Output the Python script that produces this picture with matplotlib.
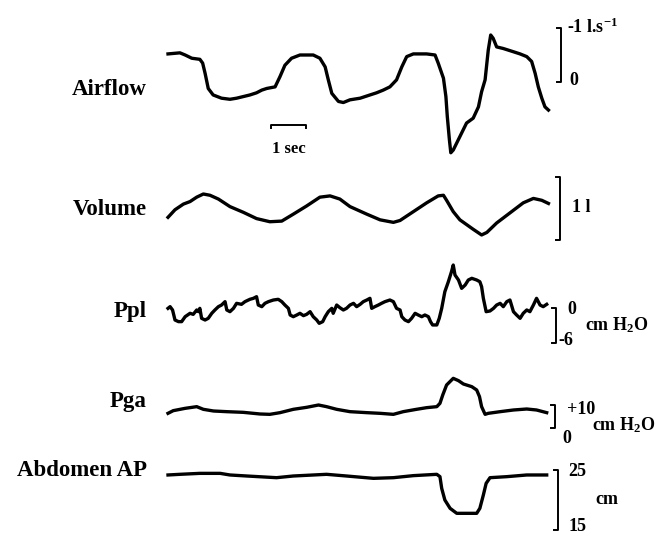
"""
Respiratory traces: airflow, volume, pleural / gastric pressure, abdomen AP
"""
import numpy as np
import matplotlib.pyplot as plt

plt.rcParams['font.family'] = ['Liberation Serif', 'DejaVu Serif']
plt.rcParams['font.weight'] = 'bold'

# time in seconds, values in the units of each scale bar
airflow_t = [0.0, 0.34, 0.49, 0.68, 0.91, 0.99, 1.06, 1.15, 1.29, 1.53, 1.77, 1.96, 2.15, 2.34,
             2.53, 2.68, 2.82, 3.06, 3.20, 3.34, 3.53, 3.77, 4.15, 4.34, 4.49, 4.58, 4.68, 4.87,
             5.01, 5.20, 5.49, 5.77, 5.96, 6.15, 6.34, 6.53, 6.68, 6.82, 7.01, 7.39, 7.63, 7.72,
             7.87, 7.94, 7.98, 8.04, 8.08, 8.15, 8.34, 8.53, 8.72, 8.87, 8.96, 9.06, 9.15, 9.22,
             9.29, 9.39, 9.58, 9.87, 10.06, 10.25, 10.39, 10.49, 10.58, 10.68, 10.77, 10.87]
airflow = [-0.52, -0.54, -0.50, -0.44, -0.42, -0.35, -0.16, 0.12, 0.24, 0.30, 0.32, 0.30, 0.27, 0.24,
           0.20, 0.15, 0.12, 0.09, -0.10, -0.31, -0.44, -0.50, -0.50, -0.44, -0.28, -0.04, 0.21, 0.36,
           0.38, 0.33, 0.30, 0.24, 0.20, 0.15, 0.09, -0.04, -0.28, -0.47, -0.52, -0.52, -0.50, -0.35,
           -0.07, 0.27, 0.64, 1.07, 1.31, 1.26, 1.01, 0.76, 0.67, 0.46, 0.18, -0.04, -0.59, -0.87,
           -0.81, -0.65, -0.62, -0.56, -0.52, -0.47, -0.38, -0.16, 0.09, 0.30, 0.46, 0.52]

volume_t = [0.0, 0.20, 0.44, 0.63, 0.82, 1.01, 1.20, 1.44, 1.77, 2.15, 2.53, 2.91, 3.25, 3.58,
            3.96, 4.34, 4.63, 4.91, 5.20, 5.68, 6.06, 6.44, 6.63, 7.01, 7.39, 7.72, 7.87, 7.96,
            8.15, 8.34, 8.72, 8.96, 9.11, 9.39, 9.77, 10.15, 10.44, 10.68, 10.87]
volume = [0.36, 0.48, 0.57, 0.61, 0.68, 0.73, 0.71, 0.65, 0.53, 0.44, 0.34, 0.29, 0.30, 0.41,
          0.54, 0.68, 0.70, 0.65, 0.53, 0.41, 0.32, 0.28, 0.31, 0.45, 0.59, 0.70, 0.71, 0.63,
          0.45, 0.32, 0.17, 0.08, 0.12, 0.27, 0.43, 0.59, 0.66, 0.63, 0.58]

ppl_t = [0.0, 0.06, 0.13, 0.20, 0.30, 0.39, 0.49, 0.63, 0.72, 0.82, 0.87, 0.91, 0.96, 1.06, 1.15,
         1.25, 1.34, 1.44, 1.53, 1.63, 1.68, 1.77, 1.87, 1.96, 2.10, 2.20, 2.34, 2.44, 2.53, 2.58,
         2.68, 2.77, 2.87, 3.01, 3.15, 3.25, 3.34, 3.44, 3.49, 3.58, 3.68, 3.77, 3.87, 3.96, 4.06,
         4.15, 4.25, 4.32, 4.42, 4.49, 4.58, 4.68, 4.72, 4.82, 4.91, 5.01, 5.10, 5.20, 5.30, 5.39,
         5.49, 5.58, 5.68, 5.77, 5.82, 5.91, 6.01, 6.10, 6.20, 6.34, 6.44, 6.53, 6.63, 6.68, 6.77,
         6.87, 6.96, 7.06, 7.15, 7.25, 7.34, 7.44, 7.50, 7.56, 7.68, 7.75, 7.82, 7.91, 8.01, 8.10,
         8.15, 8.20, 8.30, 8.39, 8.49, 8.58, 8.68, 8.82, 8.91, 8.96, 9.01, 9.09, 9.20, 9.30, 9.39,
         9.49, 9.58, 9.68, 9.77, 9.87, 9.96, 10.06, 10.15, 10.25, 10.34, 10.44, 10.53, 10.63,
         10.72, 10.82]
ppl = [-0.06, 0.23, -0.34, -2.06, -2.34, -2.34, -1.49, -0.91, -1.09, -0.34, -0.63, -0.06, -1.77,
       -2.06, -1.77, -0.91, -0.34, 0.23, 0.51, 1.09, -0.34, -0.63, -0.06, 0.80, 0.63, 1.09, 1.49,
       1.66, 1.94, 0.51, 0.23, 0.80, 1.09, 1.37, 1.49, 1.09, 0.51, -0.06, -1.20, -1.49, -1.20,
       -0.91, -1.31, -1.09, -0.63, -1.49, -2.06, -2.63, -2.34, -1.49, -0.63, -0.06, -0.91, 0.51,
       0.06, -0.34, -0.06, 0.51, 0.80, 0.23, 0.63, 1.09, 1.37, 1.66, -0.06, 0.23, 0.51, 0.80,
       1.09, 1.37, 1.09, -0.06, -0.34, -1.49, -2.06, -2.34, -1.77, -0.91, -1.20, -1.49, -1.20,
       -1.49, -2.34, -2.91, -2.91, -1.77, -0.06, 2.80, 4.51, 6.23, 7.37, 5.66, 4.80, 3.37, 3.94,
       4.80, 5.09, 4.80, 4.51, 3.66, 1.66, -0.63, -0.51, -0.06, 0.51, 0.80, 0.23, 1.09, 1.37,
       -0.63, -1.20, -1.77, -0.91, -0.34, -0.63, 0.51, 1.66, 0.51, 0.23, 0.63]

pga_t = [0.0, 0.15, 0.49, 0.82, 1.01, 1.30, 1.68, 2.15, 2.63, 2.91, 3.20, 3.58, 3.96, 4.30, 4.53,
         4.82, 5.20, 5.68, 6.06, 6.44, 6.72, 7.10, 7.39, 7.68, 7.77, 7.85, 7.96, 8.15, 8.30, 8.44,
         8.68, 8.82, 8.90, 8.96, 9.06, 9.15, 9.49, 9.87, 10.25, 10.53, 10.82]
pga = [6.38, 7.54, 8.55, 9.28, 8.12, 7.39, 7.10, 6.81, 6.09, 5.94, 6.67, 8.12, 8.99, 10.00, 9.28,
       8.12, 7.10, 6.67, 6.38, 5.94, 7.10, 8.12, 8.84, 9.28, 10.72, 14.35, 18.70, 21.59, 20.58,
       19.13, 17.97, 16.52, 13.62, 9.28, 5.94, 6.38, 7.10, 7.83, 8.26, 7.83, 6.67]

abd_t = [0.0, 0.34, 0.91, 1.49, 1.77, 2.25, 3.10, 3.58, 4.53, 5.10, 5.87, 6.44, 7.01, 7.68, 7.77,
         7.82, 7.91, 8.06, 8.25, 8.82, 8.91, 9.01, 9.09, 9.20, 9.68, 10.25, 10.82]
abd = [24.17, 24.28, 24.44, 24.44, 24.17, 24.00, 23.72, 24.00, 24.28, 24.00, 23.61, 23.72, 24.06,
       24.28, 23.89, 21.94, 20.00, 18.61, 17.78, 17.78, 18.61, 20.83, 22.78, 23.72, 23.89, 24.17,
       24.17]

W, H = 657, 537
T0_PX, PX_PER_SEC = 168, 35


def traceAxes(fig, ref_px, ref_val, ppu, invert=False):
    # one transparent axes per trace, over the whole figure
    ax = fig.add_axes([0, 0, 1, 1], facecolor='none')
    ax.set_xlim(-T0_PX / PX_PER_SEC, (W - T0_PX) / PX_PER_SEC)
    sign = -1 if invert else 1
    ax.set_ylim(ref_val + sign * (ref_px - H) / ppu, ref_val + sign * ref_px / ppu)
    ax.axis('off')
    return ax


def bracket(ax, x, v_top, v_bot):
    ax.plot([x - 0.12, x, x, x - 0.12], [v_top, v_top, v_bot, v_bot],
            color='black', lw=1.4, clip_on=False)


fig = plt.figure(figsize=(W / 100, H / 100), dpi=100)
lw = 2.4
fs = 13

# Airflow (inspiration upwards, negative)
ax = traceAxes(fig, 82, 0, 54, invert=True)
ax.plot(airflow_t, airflow, color='black', lw=lw)
bracket(ax, 11.23, -1, 0)
ax.text(11.4, -1.02, '-1 l.s$\\mathregular{^{-1}}$', fontsize=fs, va='center')
ax.text(11.46, -0.02, '0', fontsize=fs, va='center')
ax.plot([2.94, 2.94, 3.94, 3.94], [0.86, 0.80, 0.80, 0.86], color='black', lw=1.4)
ax.text(3.44, 1.24, '1 sec', fontsize=12, ha='center', va='center')

# Volume
ax = traceAxes(fig, 240, 0, 63)
ax.plot(volume_t, volume, color='black', lw=lw)
bracket(ax, 11.2, 1, 0)
ax.text(11.54, 0.51, '1 l', fontsize=fs, va='center')

# Ppl
ax = traceAxes(fig, 308, 0, 5.83)
ax.plot(ppl_t, ppl, color='black', lw=lw)
bracket(ax, 11.09, 0, -6)
ax.text(11.4, -0.34, '0', fontsize=fs, va='center')
ax.text(11.91, -2.9, 'cm H$\\mathregular{_2}$O', fontsize=fs, va='center')
ax.text(11.16, -5.66, '-6', fontsize=fs, va='center')

# Pga
ax = traceAxes(fig, 428, 0, 2.3)
ax.plot(pga_t, pga, color='black', lw=lw)
bracket(ax, 11.06, 10, 0)
ax.text(11.4, 8.26, '+10', fontsize=fs, va='center')
ax.text(12.11, 1.3, 'cm H$\\mathregular{_2}$O', fontsize=fs, va='center')
ax.text(11.26, -4.35, '0', fontsize=fs, va='center')

# Abdomen AP
ax = traceAxes(fig, 530, 15, 6)
ax.plot(abd_t, abd, color='black', lw=lw)
bracket(ax, 11.14, 25, 15)
ax.text(11.43, 24.83, '25', fontsize=fs, va='center')
ax.text(12.2, 20.0, 'cm', fontsize=fs, va='center')
ax.text(11.43, 14.2, '15', fontsize=fs, va='bottom')

# trace names
names = ['Airflow', 'Volume', 'Ppl', 'Pga', 'Abdomen AP']
name_y = [90, 210, 312, 402, 470]
for name, y in zip(names, name_y):
    fig.text(147 / W, 1 - y / H, name, fontsize=16.5, ha='right', va='center')

fig.savefig('out.png', dpi=100)
